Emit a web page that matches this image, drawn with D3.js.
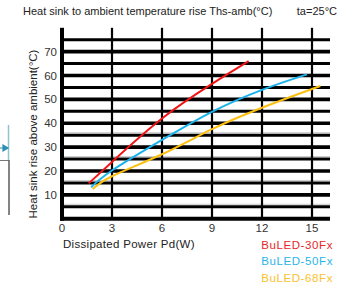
<!DOCTYPE html>
<html>
<head>
<meta charset="utf-8">
<script src="https://cdn.jsdelivr.net/npm/d3@7"></script>
<style>
  body { margin: 0; background: #fff; }
  svg { display: block; font-family: "Liberation Sans", Arial, sans-serif; }
</style>
</head>
<body>
<svg id="chart" width="351" height="284"></svg>
<script>
// values
var series = ["BuLED-30Fx", "BuLED-50Fx", "BuLED-68Fx"];
var colors = ["#f01414", "#19b2ec", "#fdbf10"];
var legendColors = ["#e8262a", "#2ab4ea", "#f9c12e"];
var pd30 = [1.6, 3, 6, 9, 11.2];
var rise30 = [14.8, 23.8, 42, 56.5, 66];
var pd50 = [1.75, 3, 6, 9, 12, 14.7];
var rise50 = [13.2, 20.2, 33, 44.8, 54, 60.5];
var pd68 = [1.85, 3, 6, 9, 12, 15.5];
var rise68 = [12.4, 17.8, 27, 37.5, 46.5, 55.6];
var xTicks = [0, 3, 6, 9, 12, 15];
var yLabels = [10, 20, 30, 40, 50, 60, 70];
var yGrid = [5, 10, 15, 20, 25, 30, 35, 40, 45, 50, 55, 60, 65, 70, 75];

var svg = d3.select("#chart");

var x = d3.scaleLinear().domain([0, 16.08]).range([62, 330]);
var y = d3.scaleLinear().domain([0, 80]).range([218.7, 27.8]);

// stray bits of the neighbouring figure on the left edge
svg.append("line").attr("x1", 8.5).attr("x2", 8.5).attr("y1", 125).attr("y2", 160)
    .attr("stroke", "#8fc3d3").attr("stroke-width", 1.5);
svg.append("path").attr("d", "M0,148L5,148M3,145L8,148L3,151Z")
    .attr("stroke", "#2d8fb0").attr("fill", "#2d8fb0").attr("stroke-width", 1.2);
svg.append("line").attr("x1", 0).attr("x2", 8.5).attr("y1", 160.5).attr("y2", 160.5)
    .attr("stroke", "#777").attr("stroke-width", 1);
svg.append("line").attr("x1", 9).attr("x2", 9).attr("y1", 160).attr("y2", 215)
    .attr("stroke", "#333").attr("stroke-width", 1.2);

// grey shadow lines under the odd grid lines
var grid = svg.append("g");
grid.selectAll(".shade")
    .data(yGrid.filter(function(d) { return d % 10 == 5 && d < 40; }))
    .enter().append("line")
      .attr("x1", x(0)).attr("x2", x(16.08))
      .attr("y1", function(d) { return y(d) - 2.5; })
      .attr("y2", function(d) { return y(d) - 2.5; })
      .attr("stroke", "#ccc").attr("stroke-width", 1);

grid.selectAll(".hline")
    .data(yGrid)
    .enter().append("line")
      .attr("x1", x(0)).attr("x2", x(16.08))
      .attr("y1", function(d) { return y(d); })
      .attr("y2", function(d) { return y(d); })
      .attr("stroke", "#000")
      .attr("stroke-width", function(d) { return d % 10 == 0 ? 3.6 : 3; });

grid.selectAll(".vline")
    .data(xTicks.slice(1))
    .enter().append("line")
      .attr("x1", function(d) { return x(d); }).attr("x2", function(d) { return x(d); })
      .attr("y1", y(80)).attr("y2", y(0))
      .attr("stroke", "#000").attr("stroke-width", 2.2);

// axes lines
svg.append("line").attr("x1", x(0)).attr("x2", x(0)).attr("y1", y(80)).attr("y2", y(0) + 2)
    .attr("stroke", "#000").attr("stroke-width", 4);
svg.append("line").attr("x1", x(0) - 2).attr("x2", x(16.08)).attr("y1", y(0)).attr("y2", y(0))
    .attr("stroke", "#000").attr("stroke-width", 4);

// tick labels
svg.selectAll(".ylab")
    .data(yLabels)
    .enter().append("text")
      .attr("x", 57).attr("y", function(d) { return y(d) + 4; })
      .attr("text-anchor", "end").attr("font-size", 11.5).attr("fill", "#333")
      .text(function(d) { return d; });

svg.selectAll(".xlab")
    .data(xTicks)
    .enter().append("text")
      .attr("x", function(d) { return x(d); }).attr("y", 231.5)
      .attr("text-anchor", "middle").attr("font-size", 11.5).attr("fill", "#333")
      .text(function(d) { return d; });

// curves
var line = d3.line()
    .x(function(d) { return x(d[0]); })
    .y(function(d) { return y(d[1]); })
    .curve(d3.curveNatural);

var curves = [d3.zip(pd30, rise30), d3.zip(pd50, rise50), d3.zip(pd68, rise68)];
svg.selectAll(".curve")
    .data(curves)
    .enter().append("path")
      .attr("d", line)
      .attr("fill", "none")
      .attr("stroke", function(d, i) { return colors[i]; })
      .attr("stroke-width", 2);

// titles
svg.append("text").attr("x", 23).attr("y", 15).attr("font-size", 11).attr("fill", "#222")
    .text("Heat sink to ambient temperature rise Ths-amb(°C)");
svg.append("text").attr("x", 337).attr("y", 15).attr("font-size", 11).attr("fill", "#222")
    .attr("text-anchor", "end").text("ta=25°C");

svg.append("text")
    .attr("transform", "translate(37,134) rotate(-90)")
    .attr("text-anchor", "middle").attr("font-size", 11.5).attr("fill", "#222")
    .text("Heat sink rise above ambient(°C)");

svg.append("text").attr("x", 63).attr("y", 248).attr("font-size", 11.5).attr("fill", "#222")
    .attr("letter-spacing", 0.3)
    .text("Dissipated Power Pd(W)");

svg.selectAll(".legend")
    .data(series)
    .enter().append("text")
      .attr("x", 333).attr("y", function(d, i) { return 248.5 + i * 16.8; })
      .attr("text-anchor", "end").attr("font-size", 11.5).attr("letter-spacing", 0.6)
      .attr("fill", function(d, i) { return legendColors[i]; })
      .text(function(d) { return d; });
</script>
</body>
</html>
